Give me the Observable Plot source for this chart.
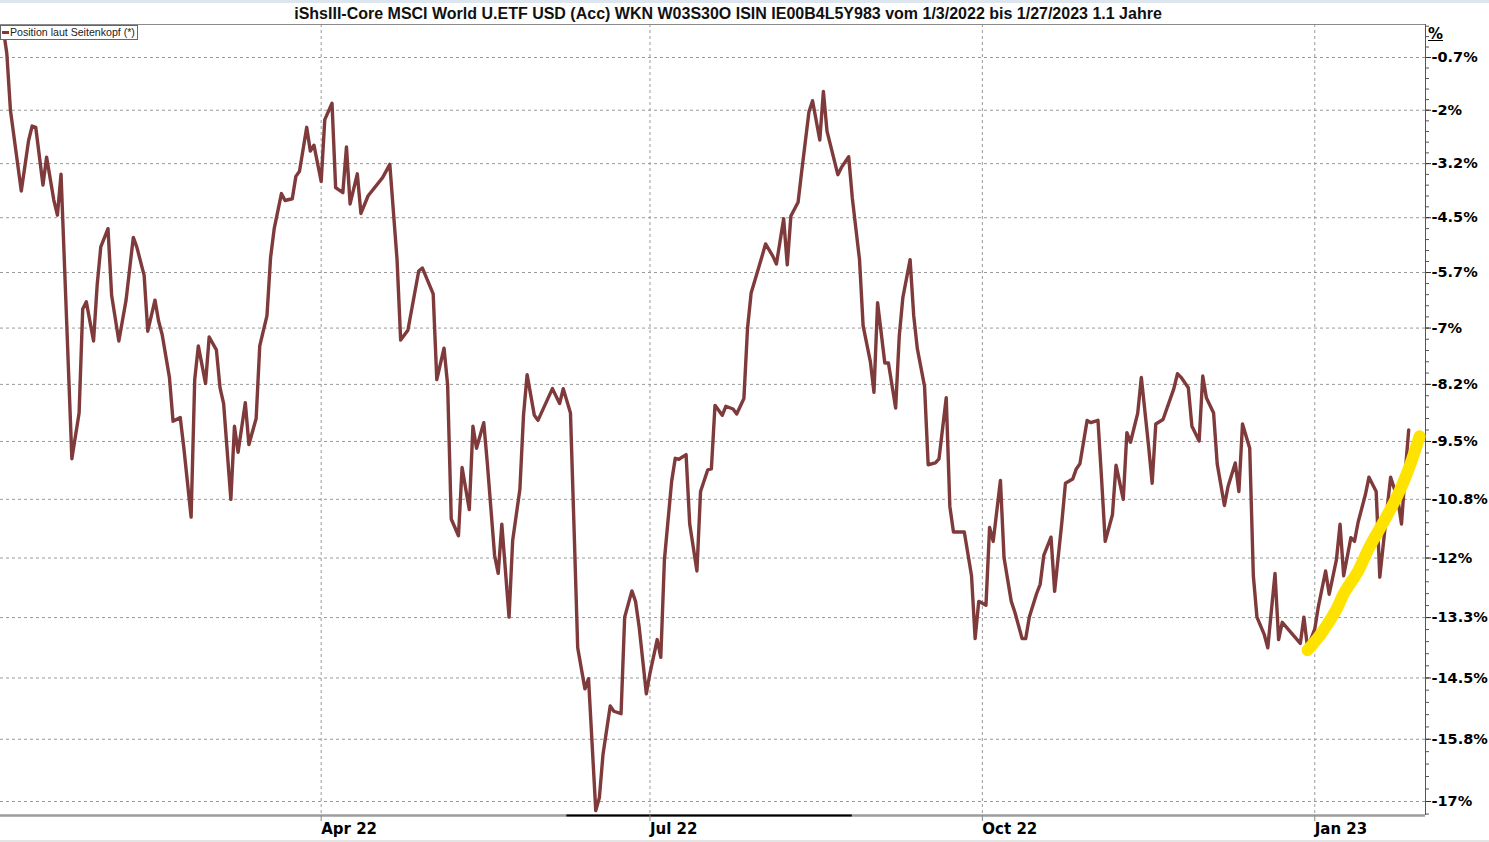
<!DOCTYPE html>
<html>
<head>
<meta charset="utf-8">
<script src="https://cdn.jsdelivr.net/npm/d3@7"></script>
<script src="https://cdn.jsdelivr.net/npm/@observablehq/plot@0.6"></script>
<style>
html,body{margin:0;padding:0;background:#fff;}
#wrap{position:relative;width:1489px;height:842px;overflow:hidden;background:#fff;}
#topstrip{position:absolute;left:0;top:0;width:1489px;height:3px;background:#dde6ee;}
#bottomstrip{position:absolute;left:0;top:840px;width:1489px;height:2px;background:#e4e4e4;}
#title{position:absolute;left:0;top:5px;width:1456px;text-align:center;font:bold 16px "Liberation Sans",Arial,sans-serif;color:#111;white-space:nowrap;line-height:18px;}
#chart{position:absolute;left:0;top:24px;}
#legend{position:absolute;left:0;top:25px;height:13px;border:1px solid #666;background:#fff;font:10.6px "Liberation Sans",Arial,sans-serif;color:#222;line-height:13px;padding:0 2px 0 9px;white-space:nowrap;}
#legend .sw{position:absolute;left:1px;top:5px;width:7px;height:3px;background:#7f3b3b;}
#pct{position:absolute;left:1428px;top:25px;font:bold 15px "DejaVu Sans",sans-serif;color:#000;text-decoration:underline;line-height:18px;}
#chart svg g[aria-label="y-axis tick label"]{font-family:"DejaVu Sans",sans-serif;font-size:14.5px;font-weight:bold;fill:#000;}
#chart svg g[aria-label="x-axis tick label"]{font-family:"DejaVu Sans",sans-serif;font-size:15px;font-weight:bold;fill:#000;}
</style>
</head>
<body>
<div id="wrap">
  <div id="topstrip"></div>
  <div id="title">iShsIII-Core MSCI World U.ETF USD (Acc) WKN W03S30O ISIN IE00B4L5Y983 vom 1/3/2022 bis 1/27/2023 1.1 Jahre</div>
  <div id="chart"></div>
  <div id="legend"><span class="sw"></span>Position laut Seitenkopf (*)</div>
  <div id="pct">%</div>
  <div id="bottomstrip"></div>
</div>
<script>
// ---- data: performance in % since 1/3/2022 ----
const dates = [
"2022-01-03","2022-01-04","2022-01-05","2022-01-08","2022-01-10","2022-01-11","2022-01-12","2022-01-14","2022-01-15","2022-01-17",
"2022-01-18","2022-01-19","2022-01-22","2022-01-24","2022-01-25","2022-01-26","2022-01-28","2022-01-29","2022-01-30","2022-02-01",
"2022-02-02","2022-02-04","2022-02-06","2022-02-08","2022-02-09","2022-02-11","2022-02-12","2022-02-14","2022-02-15","2022-02-16",
"2022-02-18","2022-02-19","2022-02-21","2022-02-22","2022-02-24","2022-02-25","2022-02-26","2022-02-28","2022-03-01","2022-03-03",
"2022-03-04","2022-03-05","2022-03-07","2022-03-08","2022-03-09","2022-03-11","2022-03-12","2022-03-14","2022-03-15","2022-03-17",
"2022-03-18","2022-03-19","2022-03-21","2022-03-22","2022-03-24","2022-03-25","2022-03-26","2022-03-28","2022-03-29","2022-03-30",
"2022-04-01","2022-04-02","2022-04-04","2022-04-05","2022-04-07","2022-04-08","2022-04-09","2022-04-11","2022-04-12","2022-04-14",
"2022-04-18","2022-04-20","2022-04-22","2022-04-23","2022-04-25","2022-04-28","2022-04-29","2022-05-02","2022-05-03","2022-05-05",
"2022-05-06","2022-05-07","2022-05-09","2022-05-10","2022-05-12","2022-05-13","2022-05-14","2022-05-16","2022-05-17","2022-05-19",
"2022-05-20","2022-05-21","2022-05-23","2022-05-24","2022-05-26","2022-05-27","2022-05-28","2022-05-30","2022-05-31","2022-06-04",
"2022-06-06","2022-06-07","2022-06-09","2022-06-10","2022-06-11","2022-06-13","2022-06-14","2022-06-16","2022-06-17","2022-06-18",
"2022-06-20","2022-06-21","2022-06-23","2022-06-24","2022-06-26","2022-06-27","2022-06-28","2022-06-30","2022-07-01","2022-07-03",
"2022-07-04","2022-07-05","2022-07-07","2022-07-08","2022-07-09","2022-07-11","2022-07-12","2022-07-14","2022-07-15","2022-07-17",
"2022-07-18","2022-07-19","2022-07-21","2022-07-22","2022-07-24","2022-07-25","2022-07-27","2022-07-28","2022-07-29","2022-07-31",
"2022-08-01","2022-08-02","2022-08-04","2022-08-05","2022-08-07","2022-08-08","2022-08-09","2022-08-11","2022-08-12","2022-08-14",
"2022-08-15","2022-08-17","2022-08-18","2022-08-19","2022-08-22","2022-08-23","2022-08-25","2022-08-26","2022-08-28","2022-08-29",
"2022-08-31","2022-09-01","2022-09-02","2022-09-04","2022-09-05","2022-09-07","2022-09-08","2022-09-09","2022-09-11","2022-09-12",
"2022-09-13","2022-09-15","2022-09-16","2022-09-18","2022-09-19","2022-09-21","2022-09-22","2022-09-23","2022-09-26","2022-09-28",
"2022-09-29","2022-09-30","2022-10-02","2022-10-03","2022-10-04","2022-10-06","2022-10-07","2022-10-09","2022-10-10","2022-10-12",
"2022-10-13","2022-10-14","2022-10-16","2022-10-17","2022-10-18","2022-10-20","2022-10-21","2022-10-23","2022-10-24","2022-10-26",
"2022-10-27","2022-10-28","2022-10-30","2022-10-31","2022-11-02","2022-11-03","2022-11-04","2022-11-06","2022-11-07","2022-11-09",
"2022-11-10","2022-11-11","2022-11-13","2022-11-14","2022-11-16","2022-11-17","2022-11-18","2022-11-20","2022-11-23","2022-11-24",
"2022-11-25","2022-11-27","2022-11-28","2022-11-30","2022-12-01","2022-12-02","2022-12-04","2022-12-05","2022-12-07","2022-12-08",
"2022-12-10","2022-12-11","2022-12-12","2022-12-14","2022-12-15","2022-12-16","2022-12-18","2022-12-19","2022-12-21","2022-12-22",
"2022-12-23","2022-12-28","2022-12-29","2022-12-30","2023-01-01","2023-01-02","2023-01-04","2023-01-05","2023-01-07","2023-01-08",
"2023-01-09","2023-01-11","2023-01-12","2023-01-13","2023-01-15","2023-01-16","2023-01-18","2023-01-19","2023-01-21","2023-01-22",
"2023-01-24","2023-01-25","2023-01-26","2023-01-27"
];
const perf = [
0,-0.61,-1.96,-3.85,-2.68,-2.33,-2.36,-3.71,-3.06,-4.06,
-4.41,-3.46,-9.87,-8.87,-6.55,-6.39,-7.27,-6.01,-5.14,-4.72,
-6.24,-7.27,-6.35,-4.92,-5.15,-5.79,-7.05,-6.35,-6.82,-7.13,
-8.08,-9.05,-8.97,-9.64,-11.13,-8.13,-7.38,-8.22,-7.18,-7.47,
-8.31,-8.66,-10.75,-9.16,-9.73,-8.64,-9.56,-8.99,-7.38,-6.70,
-5.38,-4.72,-3.91,-4.07,-4.03,-3.51,-3.39,-2.36,-2.92,-2.78,
-3.63,-2.18,-1.79,-3.77,-3.89,-2.82,-4.15,-3.45,-4.37,-3.96,
-3.54,-3.23,-5.43,-7.25,-7.03,-5.69,-5.62,-6.21,-8.13,-7.43,
-8.25,-11.17,-11.53,-10.06,-10.97,-9.16,-9.64,-9.08,-9.98,-11.95,
-12.33,-11.28,-13.25,-11.63,-10.53,-8.92,-8.02,-8.92,-9.03,-8.33,
-8.66,-8.33,-8.87,-11.39,-13.89,-14.74,-14.53,-17.21,-16.95,-16.08,
-15.09,-15.20,-15.25,-13.25,-12.70,-12.92,-13.45,-14.84,-14.42,-13.72,
-14.09,-12.04,-10.36,-9.86,-9.88,-9.78,-11.28,-12.28,-10.58,-10.11,
-10.09,-8.70,-8.92,-8.72,-8.78,-8.89,-8.55,-6.99,-6.19,-5.64,
-5.36,-5.07,-5.35,-5.53,-4.49,-5.55,-4.43,-4.11,-3.39,-2.00,
-1.73,-2.66,-1.51,-2.45,-3.47,-3.30,-3.05,-4.01,-5.43,-6.93,
-7.73,-8.41,-6.41,-7.76,-7.76,-8.76,-7.16,-6.29,-5.43,-6.70,
-7.44,-8.28,-10.00,-9.96,-9.87,-8.53,-10.90,-11.45,-11.45,-12.38,
-13.70,-12.92,-13.00,-11.35,-11.65,-10.34,-12.00,-12.92,-13.15,-13.70,
-13.70,-13.25,-12.76,-12.56,-11.95,-11.56,-12.71,-11.24,-10.40,-10.31,
-10.09,-9.98,-9.03,-9.08,-9.03,-10.31,-11.65,-11.08,-10.01,-10.75,
-9.30,-9.51,-8.87,-8.08,-9.59,-10.40,-9.11,-9.01,-8.33,-8.00,
-8.08,-8.31,-9.16,-9.48,-8.05,-8.53,-8.87,-9.98,-10.88,-10.47,
-9.96,-10.58,-9.11,-9.64,-12.38,-13.25,-13.61,-13.89,-12.33,-13.72,
-13.36,-13.80,-13.25,-13.89,-13.50,-13.03,-12.28,-12.77,-12.04,-11.28,
-12.38,-11.57,-11.65,-11.24,-10.65,-10.27,-10.58,-12.41,-10.97,-10.27,
-10.75,-11.28,-10.21,-9.24
];

// hand-drawn yellow trend highlight
const highlightDates = ["2022-12-30","2023-01-03","2023-01-07","2023-01-09","2023-01-13","2023-01-16","2023-01-20","2023-01-24","2023-01-27","2023-01-30"];
const highlightPerf  = [-13.94,-13.57,-13.09,-12.76,-12.28,-11.79,-11.24,-10.65,-10.09,-9.38];

// marked range on the time axis
const markedRange = ["2022-06-08","2022-08-26"];

// axis ticks
const yTickPerf = [-0.7,-1.956,-3.212,-4.468,-5.724,-6.98,-8.236,-9.492,-10.748,-12.004,-13.26,-14.516,-15.772,-17.028];
const yTickLabels = ["-0.7%","-2%","-3.2%","-4.5%","-5.7%","-7%","-8.2%","-9.5%","-10.8%","-12%","-13.3%","-14.5%","-15.8%","-17%"];
const xTickDates = ["2022-04-01","2022-07-01","2022-10-01","2023-01-01"];
const xTickLabels = ["Apr 22","Jul 22","Oct 22","Jan 23"];

// scale domains
const xDomain = [new Date("2022-01-02T05:53:00Z"), new Date("2023-01-31T15:36:00Z")];
const yDomain = [0.82692, 1.000944];

// ---- build ----
const toDate = s => new Date(s + "T00:00:00Z");
const series = dates.map((d, i) => ({date: toDate(d), v: 1 + perf[i] / 100}));
const highlight = highlightDates.map((d, i) => ({date: toDate(d), v: 1 + highlightPerf[i] / 100}));
const yTicks = yTickPerf.map(p => 1 + p / 100);
const yLabelMap = new Map(yTicks.map((v, i) => [v, yTickLabels[i]]));
const xTicks = xTickDates.map(toDate);
const xLabelMap = new Map(xTicks.map((d, i) => [+d, xTickLabels[i]]));
// minor ticks: 5 subdivisions of each major interval
const step = (yTickPerf[0] - yTickPerf[yTickPerf.length - 1]) / (yTickPerf.length - 1) / 5;
const minorTicks = [];
for (let p = yTickPerf[0] + 3 * step; p > yTickPerf[yTickPerf.length - 1] - 3 * step; p -= step) {
  const v = 1 + p / 100;
  if (v > yDomain[0] && v < yDomain[1]) minorTicks.push(v);
}

const chart = Plot.plot({
  width: 1489,
  height: 818,
  marginLeft: 0,
  marginRight: 64,
  marginTop: 0,
  marginBottom: 27,
  style: {background: "transparent", fontFamily: "Liberation Sans, Arial, sans-serif", overflow: "visible"},
  x: {type: "utc", domain: xDomain},
  y: {type: "log", domain: yDomain},
  marks: [
    Plot.ruleY(yTicks, {stroke: "#9a9a9a", strokeWidth: 1, strokeDasharray: "3,3"}),
    Plot.ruleX(xTicks, {stroke: "#9a9a9a", strokeWidth: 1, strokeDasharray: "3,3"}),
    Plot.ruleY([yDomain[1]], {stroke: "#8a8a8a", strokeWidth: 1}),
    Plot.ruleY([yDomain[0]], {stroke: "#9d9d9d", strokeWidth: 2.5}),
    Plot.ruleY([{y: yDomain[0], a: toDate(markedRange[0]), b: toDate(markedRange[1])}], {y: "y", x1: "a", x2: "b", stroke: "#000", strokeWidth: 2}),
    Plot.ruleX([xDomain[1]], {stroke: "#555", strokeWidth: 1}),
    Plot.line(series, {x: "date", y: "v", stroke: "#7f3b3b", strokeWidth: 3.4, strokeLinejoin: "round"}),
    Plot.line(highlight, {x: "date", y: "v", stroke: "#ffe300", strokeWidth: 12, strokeLinecap: "round", strokeLinejoin: "round", curve: "catmull-rom"}),
    Plot.axisY({ticks: minorTicks, anchor: "right", tickSize: 3, tickFormat: () => "", stroke: "#555"}),
    Plot.axisY({ticks: yTicks, anchor: "right", tickSize: 5, tickPadding: 1, tickFormat: d => yLabelMap.get(d), stroke: "#333"}),
    Plot.axisX({ticks: xTicks, anchor: "bottom", tickSize: 6, tickPadding: 2, tickFormat: d => xLabelMap.get(+d), textAnchor: "start", dx: 0, stroke: "#888"})
  ]
});
document.getElementById("chart").appendChild(chart);
</script>
</body>
</html>
